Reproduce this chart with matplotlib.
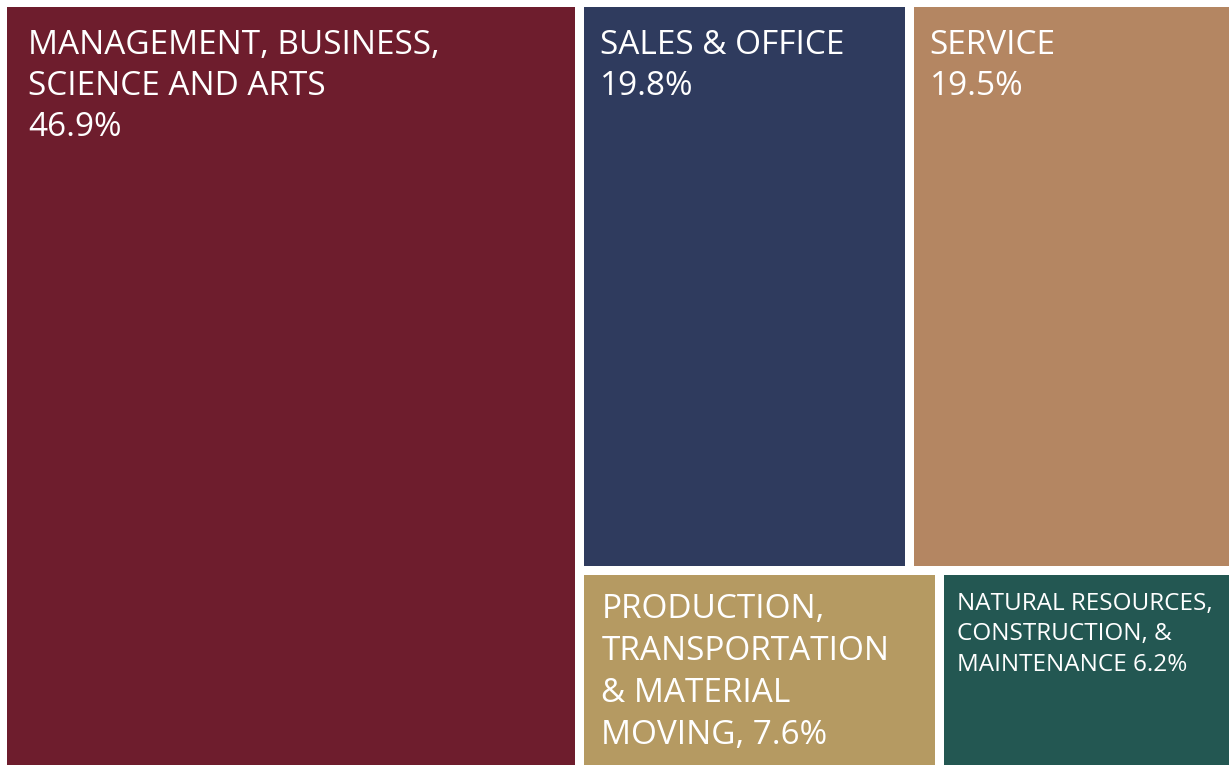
import matplotlib.pyplot as plt
from matplotlib.patches import Rectangle

# occupation shares (%)
categories = ['Management', 'Sales', 'Service', 'Production', 'Natural']
shares = [46.9, 19.8, 19.5, 7.6, 6.2]
labels = [
    ['MANAGEMENT, BUSINESS,', 'SCIENCE AND ARTS', '46.9%'],
    ['SALES & OFFICE', '19.8%'],
    ['SERVICE', '19.5%'],
    ['PRODUCTION,', 'TRANSPORTATION', '& MATERIAL', 'MOVING, 7.6%'],
    ['NATURAL RESOURCES,', 'CONSTRUCTION, &', 'MAINTENANCE 6.2%'],
]
colors = ['#6E1D2D', '#2F3B5E', '#B48662', '#B59A62', '#235752']

# text styling: x pad, first baseline, line step, font size
txt_pad = [21, 16, 16, 17, 13]
txt_base = [47, 47, 47, 43, 35]
txt_step = [41, 41, 41, 42, 30.5]
txt_size = [24, 24, 24, 24, 17.5]

W, H = 1230, 765
x0, y0, x1, y1 = 2.5, 2.5, 1233.5, 769.5
gap = 4.5

tot = sum(shares)
# column 1: biggest share, full height
w1 = (x1 - x0) * shares[0] / tot
rects = [(x0, y0, w1, y1 - y0)]
rx = x0 + w1
rw = x1 - rx
top = shares[1] + shares[2]
bot = shares[3] + shares[4]
htop = (y1 - y0) * top / (top + bot)
wa = rw * shares[1] / top
rects.append((rx, y0, wa, htop))
rects.append((rx + wa, y0, rw - wa, htop))
wb = rw * shares[3] / bot
rects.append((rx, y0 + htop, wb, y1 - y0 - htop))
rects.append((rx + wb, y0 + htop, rw - wb, y1 - y0 - htop))

fig = plt.figure(figsize=(W / 100, H / 100), dpi=100)
ax = fig.add_axes([0, 0, 1, 1])
ax.set_xlim(0, W)
ax.set_ylim(H, 0)
ax.axis('off')

for i, (x, y, w, h) in enumerate(rects):
    ax.add_patch(Rectangle((x + gap, y + gap), w - 2 * gap, h - 2 * gap,
                           facecolor=colors[i], edgecolor='none'))
    for k, line in enumerate(labels[i]):
        ax.text(x + gap + txt_pad[i], y + gap + txt_base[i] + k * txt_step[i], line,
                color='white', fontsize=txt_size[i], family='Open Sans',
                ha='left', va='baseline')

fig.savefig('out.png', dpi=100, facecolor='white')
